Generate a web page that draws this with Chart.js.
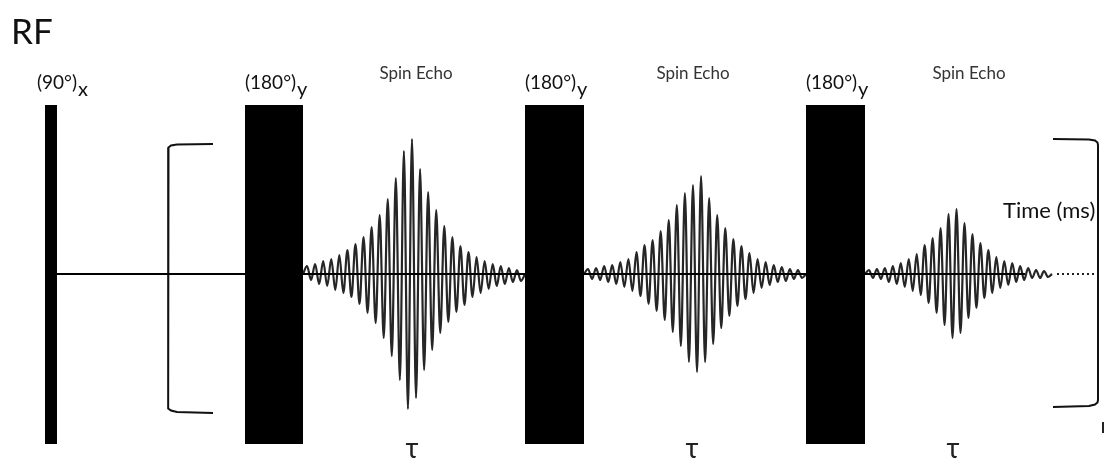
<!DOCTYPE html>
<html>
<head>
<meta charset="utf-8">
<script src="https://cdn.jsdelivr.net/npm/chart.js@4.4.1/dist/chart.umd.min.js"></script>
<style>
  html, body { margin: 0; padding: 0; background: #fff; }
  #seq { display: block; }
</style>
</head>
<body>
<canvas id="seq" width="1105" height="459"></canvas>
<script>
// pulses (time in px-like units, amplitude around baseline 0)
const pulseNames = ['(90°)', '(180°)', '(180°)', '(180°)'];
const pulsePhase = ['x', 'y', 'y', 'y'];
const pulseStart = [45, 245, 525, 806];
const pulseEnd = [57, 303, 584, 865];
const pulseTop = 169;
const pulseBottom = -170;

// echoes: successive extremes (0 at each end)
const echoStart = [303, 584, 865];
const echoEnd = [525, 806, 1052];
const echo1 = [0, 8, -6, 10, -10, 13, -12, 15, -16, 19, -19, 24, -23, 30, -30, 37, -39, 47, -49, 59, -64, 75, -82, 96, -106, 123, -135,
  135, -124, 105, -96, 82, -76, 64, -59, 48, -48, 37, -38, 28, -31, 22, -23, 17, -19, 13, -15, 10, -12, 8, -10, 6, -8, 4, -7, 0];
const echo2 = [0, 5, -5, 6, -6, 8, -8, 9, -10, 12, -13, 15, -17, 22, -22, 29, -30, 34, -37, 43, -46, 54, -58, 69, -72, 81, -88, 89,
  -98, 98, -88, 76, -70, 59, -54, 46, -42, 35, -32, 28, -25, 21, -19, 15, -14, 12, -11, 9, -8, 7, -7, 5, -5, 4, -4, 0];
const echo3 = [0, 4, -4, 5, -5, 6, -8, 8, -10, 11, -13, 15, -17, 20, -21, 29, -29, 36, -39, 46, -51, 60, -64, 65,
  -59, 51, -44, 40, -34, 31, -24, 24, -19, 17, -14, 13, -11, 11, -8, 8, -6, 6, -4, 4, -4, 3, -3, 0];
const echoes = [echo1, echo2, echo3];
const echoLabel = 'Spin Echo';
const tauLabel = 'τ';

const baselineFrom = 57, baselineTo = 1025;
const dottedFrom = 1057, dottedTo = 1095;

const leftBracket = [[213, 130], [177, 129.5], [171, 128.5], [168.5, 126.5], [168, 124], [168, -132], [168.5, -134.5], [171, -136.5], [177, -138], [213, -139]];
const rightBracket = [[1053, 135], [1089, 134.5], [1095, 133.5], [1097.5, 131.5], [1098, 129], [1098, -126], [1097.5, -128.5], [1095, -130.5], [1089, -132], [1053, -133]];
const edgeMark = [[1103, -148], [1103, -159]];

const FONT = 'Lato, "Open Sans", "DejaVu Sans", sans-serif';

function echoPoints(vals, x0, x1) {
  const step = (x1 - x0) / (vals.length - 1);
  return vals.map((v, i) => ({ x: x0 + i * step, y: v }));
}
const pts = arr => arr.map(p => ({ x: p[0], y: p[1] }));

const datasets = [];

pulseStart.forEach((s, i) => {
  datasets.push({
    data: [{ x: s, y: pulseTop }, { x: pulseEnd[i], y: pulseTop }],
    borderColor: '#000', borderWidth: 0, backgroundColor: '#000',
    fill: { value: pulseBottom }, order: 0
  });
});

echoes.forEach((e, i) => {
  datasets.push({
    data: echoPoints(e, echoStart[i], echoEnd[i]),
    borderColor: '#262626', borderWidth: 2.2, cubicInterpolationMode: 'monotone',
    order: 3
  });
});

datasets.push({ data: [{ x: baselineFrom, y: 0 }, { x: baselineTo, y: 0 }], borderColor: '#000', borderWidth: 2, order: 2 });
datasets.push({ data: [{ x: dottedFrom, y: 0 }, { x: dottedTo, y: 0 }], borderColor: '#222', borderWidth: 2, borderDash: [2, 3], order: 2 });
datasets.push({ data: pts(leftBracket), borderColor: '#111', borderWidth: 2, order: 2 });
datasets.push({ data: pts(rightBracket), borderColor: '#111', borderWidth: 2, order: 2 });
datasets.push({ data: pts(edgeMark), borderColor: '#222', borderWidth: 2, order: 2 });

// labels drawn on top of the canvas
const labelPlugin = {
  id: 'seqLabels',
  afterDatasetsDraw(chart) {
    const { ctx, scales: { x } } = chart;
    ctx.save();
    ctx.textBaseline = 'alphabetic';

    ctx.fillStyle = '#111';
    ctx.font = '35px ' + FONT;
    ctx.fillText('RF', x.getPixelForValue(11), 44);

    // pulse names with subscript phase
    pulseNames.forEach((n, i) => {
      const px = x.getPixelForValue(pulseStart[i]) + (i === 0 ? -8 : 0);
      ctx.fillStyle = '#111';
      ctx.font = '19px ' + FONT;
      ctx.fillText(n, px, 89);
      const w = ctx.measureText(n).width;
      ctx.font = '20px ' + FONT;
      ctx.fillText(pulsePhase[i], px + w + 1, 96);
    });

    // spin echo labels + tau
    const echoLabelX = [416, 693, 969];
    const tauX = [412, 692, 953];
    echoes.forEach((e, i) => {
      ctx.fillStyle = '#333';
      ctx.font = '17px ' + FONT;
      ctx.textAlign = 'center';
      ctx.fillText(echoLabel, x.getPixelForValue(echoLabelX[i]), 79);
      ctx.font = '28px ' + FONT;
      ctx.fillStyle = '#222';
      ctx.fillText(tauLabel, x.getPixelForValue(tauX[i]), 458);
    });

    ctx.textAlign = 'left';
    ctx.fillStyle = '#111';
    ctx.font = '22px ' + FONT;
    ctx.fillText('Time (ms)', x.getPixelForValue(1003), 218);
    ctx.restore();
  }
};

new Chart(document.getElementById('seq'), {
  type: 'scatter',
  data: { datasets },
  options: {
    responsive: false,
    animation: false,
    showLine: true,
    layout: { padding: 0 },
    elements: { point: { radius: 0, hoverRadius: 0 }, line: { tension: 0 } },
    plugins: { legend: { display: false }, tooltip: { enabled: false } },
    scales: {
      x: { type: 'linear', min: 0, max: 1105, display: false },
      y: { type: 'linear', min: -185, max: 274, display: false }
    }
  },
  plugins: [labelPlugin]
});
</script>
</body>
</html>
